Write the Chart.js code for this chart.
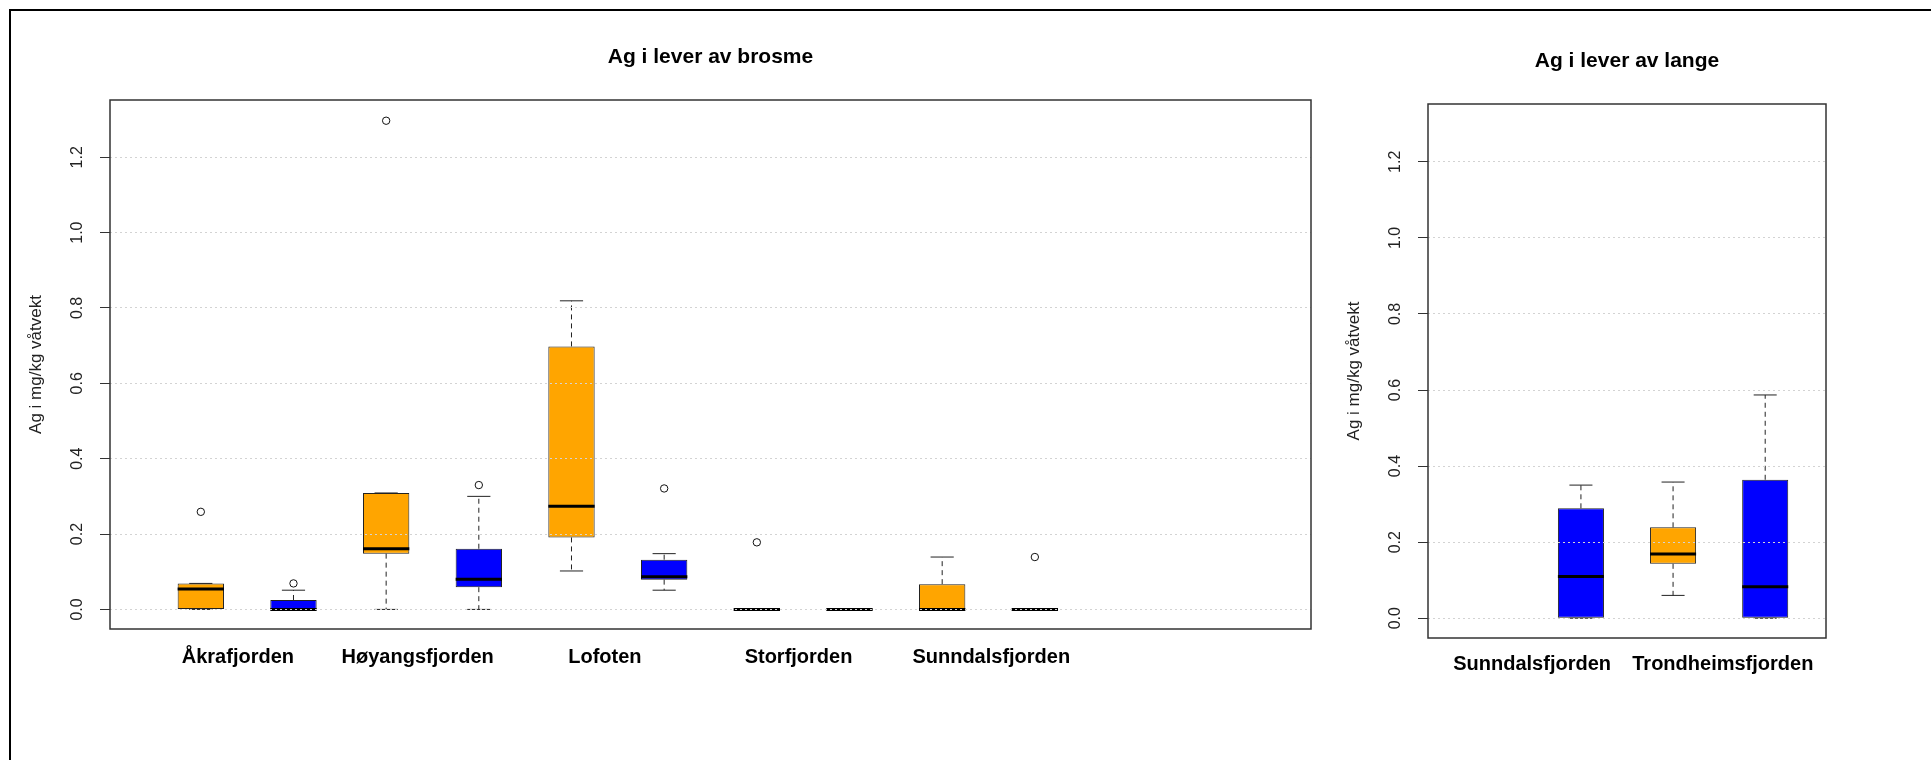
<!DOCTYPE html>
<html lang="no">
<head>
<meta charset="utf-8">
<title>Ag i lever av brosme og lange</title>
<script src="https://cdn.jsdelivr.net/npm/chart.js@4.4.1/dist/chart.umd.min.js"></script>
<style>
  html, body { margin: 0; padding: 0; background: #fff; width: 1931px; height: 760px; overflow: hidden; }
  #frame { position: absolute; left: 9px; top: 9px; width: 2000px; height: 800px;
           border-top: 2px solid #000; border-left: 2px solid #000; }
  #brosme { position: absolute; left: 0; top: 0; }
  #lange { position: absolute; left: 1318px; top: 0; }
</style>
</head>
<body>
<div id="frame"></div>
<canvas id="brosme" width="1318" height="760"></canvas>
<canvas id="lange" width="613" height="760"></canvas>
<script>
// Y axis (shared by both panels)
const yTicks = [0, 0.2, 0.4, 0.6, 0.8, 1.0, 1.2];
const yLo = 0, yHi = 1.3;

// Brosme - one orange and one blue box per fjord
const brosmeSteder = ['Åkrafjorden', 'Høyangsfjorden', 'Lofoten', 'Storfjorden', 'Sunndalsfjorden'];
const brosmeLabelPos = [1.40, 3.34, 5.36, 7.45, 9.53];
const brosmeOrMin = [0.000, 0.000, 0.102, 0.000, 0.000];
const brosmeOrQ1  = [0.000, 0.148, 0.191, 0.000, 0.000];
const brosmeOrMed = [0.054, 0.161, 0.274, 0.000, 0.000];
const brosmeOrQ3  = [0.069, 0.309, 0.698, 0.000, 0.067];
const brosmeOrMax = [0.069, 0.309, 0.819, 0.000, 0.139];
const brosmeOrOut = [[0.259], [1.297], [], [0.178], []];
const brosmeBlMin = [0.000, 0.000, 0.051, 0.000, 0.000];
const brosmeBlQ1  = [0.000, 0.059, 0.079, 0.000, 0.000];
const brosmeBlMed = [0.000, 0.080, 0.087, 0.000, 0.000];
const brosmeBlQ3  = [0.025, 0.161, 0.132, 0.000, 0.000];
const brosmeBlMax = [0.051, 0.300, 0.148, 0.000, 0.000];
const brosmeBlOut = [[0.069], [0.330], [0.321], [], [0.139]];

// Lange
const langeSteder = ['Sunndalsfjorden', 'Trondheimsfjorden'];
const langeLabelPos = [1.47, 3.54];
const langeOrMin = [null, 0.060];
const langeOrQ1  = [null, 0.143];
const langeOrMed = [null, 0.169];
const langeOrQ3  = [null, 0.239];
const langeOrMax = [null, 0.358];
const langeOrOut = [[], []];
const langeBlMin = [0.000, 0.000];
const langeBlQ1  = [0.000, 0.000];
const langeBlMed = [0.110, 0.083];
const langeBlQ3  = [0.289, 0.364];
const langeBlMax = [0.350, 0.587];
const langeBlOut = [[], []];

const ORANGE = '#FFA500';
const BLUE = '#0000FF';
const FONT = '"Liberation Sans", Arial, sans-serif';

// turn the per-statistic arrays into one record per box
function buildBoxes(steder, series) {
    const boxes = [];
    steder.forEach((s, i) => {
        series.forEach((ser, k) => {
            if (ser.q1[i] === null) return;
            boxes.push({
                x: i * series.length + k + 1,
                min: ser.min[i], q1: ser.q1[i], med: ser.med[i], q3: ser.q3[i], max: ser.max[i],
                out: ser.out[i], color: ser.color
            });
        });
    });
    return boxes;
}

// whiskers, caps and medians, plus y tick labels and the plot frame
const boxPartsPlugin = {
    id: 'boxParts',
    afterDatasetsDraw(chart) {
        const { ctx } = chart;
        const x = chart.scales.x, y = chart.scales.y;
        const slot = x.getPixelForValue(1) - x.getPixelForValue(0);
        const boxes = chart.options.plugins.boxParts.boxes;
        ctx.save();
        boxes.forEach(b => {
            const cx = x.getPixelForValue(b.x);
            // whiskers
            ctx.strokeStyle = '#222';
            ctx.lineWidth = 1;
            ctx.setLineDash([5, 4]);
            ctx.beginPath();
            ctx.moveTo(cx, y.getPixelForValue(b.q3));
            ctx.lineTo(cx, y.getPixelForValue(b.max));
            ctx.moveTo(cx, y.getPixelForValue(b.q1));
            ctx.lineTo(cx, y.getPixelForValue(b.min));
            ctx.stroke();
            // caps
            ctx.setLineDash([]);
            ctx.beginPath();
            [b.min, b.max].forEach(v => {
                const py = y.getPixelForValue(v);
                ctx.moveTo(cx - slot * 0.125, py);
                ctx.lineTo(cx + slot * 0.125, py);
            });
            ctx.stroke();
            // median
            ctx.strokeStyle = '#000';
            ctx.lineWidth = 3;
            ctx.beginPath();
            const pm = y.getPixelForValue(b.med);
            ctx.moveTo(cx - slot * 0.25, pm);
            ctx.lineTo(cx + slot * 0.25, pm);
            ctx.stroke();
        });
        ctx.restore();
    },
    afterDraw(chart) {
        const { ctx, chartArea } = chart;
        const y = chart.scales.y;
        ctx.save();
        ctx.font = '16px ' + FONT;
        ctx.fillStyle = '#222';
        ctx.textAlign = 'center';
        ctx.textBaseline = 'middle';
        yTicks.forEach(v => {
            ctx.save();
            ctx.translate(chartArea.left - 32.5, y.getPixelForValue(v));
            ctx.rotate(-Math.PI / 2);
            ctx.fillText(v.toFixed(1), 0, 0);
            ctx.restore();
        });
        ctx.strokeStyle = '#333';
        ctx.lineWidth = 1.5;
        ctx.strokeRect(chartArea.left, chartArea.top, chartArea.right - chartArea.left, chartArea.bottom - chartArea.top);
        ctx.restore();
    }
};

function boxChart(canvasId, cfg) {
    const boxes = buildBoxes(cfg.steder, cfg.series);
    const outliers = [];
    boxes.forEach(b => b.out.forEach(v => outliers.push({ x: b.x, y: v })));
    const xPad = 0.04 * cfg.slots;
    const yPad = 0.04 * (yHi - yLo);

    return new Chart(document.getElementById(canvasId), {
        type: 'bar',
        data: {
            datasets: [{
                type: 'bar',
                data: boxes.map(b => ({ x: b.x, y: [b.q1, b.q3] })),
                backgroundColor: boxes.map(b => b.color),
                borderColor: '#222',
                borderWidth: 1,
                borderSkipped: false,
                barPercentage: 0.5,
                categoryPercentage: 1
            }, {
                type: 'scatter',
                data: outliers,
                pointRadius: 3.7,
                pointBorderWidth: 1,
                pointBorderColor: '#111',
                pointBackgroundColor: 'rgba(255,255,255,0)'
            }]
        },
        options: {
            responsive: false,
            animation: false,
            events: [],
            layout: { padding: { left: 0, right: cfg.padRight, top: 0, bottom: 0 } },
            plugins: {
                legend: { display: false },
                tooltip: { enabled: false },
                title: {
                    display: true,
                    fullSize: false,
                    text: cfg.title,
                    color: '#000',
                    font: { family: FONT, size: 21, weight: 'bold' },
                    padding: { top: cfg.titleTop, bottom: cfg.titleBottom }
                },
                boxParts: { boxes: boxes }
            },
            scales: {
                x: {
                    type: 'linear',
                    offset: false,
                    min: 0.5 - xPad,
                    max: cfg.slots + 0.5 + xPad,
                    afterBuildTicks: s => { s.ticks = cfg.labelPos.map(v => ({ value: v })); },
                    afterFit: s => { s.height = cfg.xAxisHeight; },
                    grid: { display: false, drawTicks: false },
                    border: { display: false },
                    ticks: {
                        autoSkip: false, maxRotation: 0, minRotation: 0,
                        padding: cfg.xLabelPad,
                        color: '#000',
                        font: { family: FONT, size: 20, weight: 'bold' },
                        callback: (v, i) => cfg.steder[i]
                    }
                },
                y: {
                    type: 'linear',
                    min: yLo - yPad,
                    max: yHi + yPad,
                    afterBuildTicks: s => { s.ticks = yTicks.map(v => ({ value: v })); },
                    afterFit: s => { s.width = 110; },
                    grid: { color: '#d3d3d3', lineWidth: 1, z: 1, drawTicks: true, tickLength: 10, tickColor: '#333', tickWidth: 1 },
                    border: { display: false, dash: [2, 3] },
                    ticks: { display: false },
                    title: {
                        display: true,
                        text: 'Ag i mg/kg våtvekt',
                        color: '#222',
                        font: { family: FONT, size: 17 },
                        padding: { top: 26, bottom: 0 }
                    }
                }
            }
        },
        plugins: [boxPartsPlugin]
    });
}

boxChart('brosme', {
    title: 'Ag i lever av brosme',
    steder: brosmeSteder,
    labelPos: brosmeLabelPos,
    slots: 12,
    padRight: 7,
    titleTop: 44.4,
    titleBottom: 30.4,
    xAxisHeight: 131,
    xLabelPad: 16,
    series: [
        { color: ORANGE, min: brosmeOrMin, q1: brosmeOrQ1, med: brosmeOrMed, q3: brosmeOrQ3, max: brosmeOrMax, out: brosmeOrOut },
        { color: BLUE, min: brosmeBlMin, q1: brosmeBlQ1, med: brosmeBlMed, q3: brosmeBlQ3, max: brosmeBlMax, out: brosmeBlOut }
    ]
});

boxChart('lange', {
    title: 'Ag i lever av lange',
    steder: langeSteder,
    labelPos: langeLabelPos,
    slots: 4,
    padRight: 105,
    titleTop: 48.9,
    titleBottom: 29.9,
    xAxisHeight: 122,
    xLabelPad: 14,
    series: [
        { color: ORANGE, min: langeOrMin, q1: langeOrQ1, med: langeOrMed, q3: langeOrQ3, max: langeOrMax, out: langeOrOut },
        { color: BLUE, min: langeBlMin, q1: langeBlQ1, med: langeBlMed, q3: langeBlQ3, max: langeBlMax, out: langeBlOut }
    ]
});
</script>
</body>
</html>
